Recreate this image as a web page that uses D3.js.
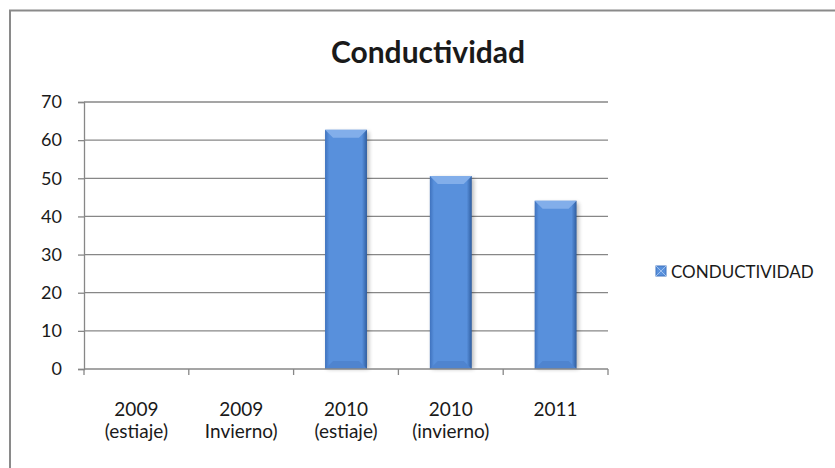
<!DOCTYPE html>
<html>
<head>
<meta charset="utf-8">
<script src="https://cdn.jsdelivr.net/npm/d3@7"></script>
<style>
  html, body { margin: 0; padding: 0; background: #fff; }
  svg { display: block; }
  text { font-family: Lato, "Open Sans", sans-serif; fill: #1a1a1a; }
</style>
</head>
<body>
<svg id="chart" width="835" height="468"></svg>
<script>
// Conductividad by sampling campaign
const categories = [["2009", "(estiaje)"], ["2009", "Invierno)"], ["2010", "(estiaje)"], ["2010", "(invierno)"], ["2011", ""]];
const conductividad = [null, null, 62.7, 50.6, 44.1];
const yTicks = [0, 10, 20, 30, 40, 50, 60, 70];
const seriesName = "CONDUCTIVIDAD";
const chartTitle = "Conductividad";

const svg = d3.select("#chart");
const W = 835, H = 468;
const plot = { left: 84, right: 608, top: 102, bottom: 369 };

// outer chart frame (continues beyond the right and bottom edges)
svg.append("rect")
  .attr("x", 10).attr("y", 10.5)
  .attr("width", W + 20).attr("height", H + 20)
  .attr("fill", "#fff").attr("stroke", "#8a8a8a").attr("stroke-width", 2);

const keys = categories.map((c, i) => i);
const x = d3.scaleBand().domain(keys).range([plot.left, plot.right])
  .paddingInner(0.6).paddingOuter(0.3);
const xTicks = d3.scaleBand().domain(keys).range([plot.left, plot.right]);
const y = d3.scaleLinear().domain([0, 70]).range([plot.bottom, plot.top]);

// horizontal gridlines + y axis
const yAxis = d3.axisLeft(y).tickValues(yTicks).tickSize(6).tickPadding(16);
const gy = svg.append("g").attr("transform", `translate(${plot.left},0)`).call(yAxis);
gy.select(".domain").attr("stroke", "#878787").attr("stroke-width", 1.3);
gy.selectAll(".tick line").attr("stroke", "#878787").attr("stroke-width", 1.3);
gy.selectAll(".tick text").style("font-size", "18px").attr("fill", "#1a1a1a");

svg.append("g").selectAll("line").data(yTicks.filter(t => t > 0)).join("line")
  .attr("x1", plot.left).attr("x2", plot.right)
  .attr("y1", d => y(d)).attr("y2", d => y(d))
  .attr("stroke", "#878787").attr("stroke-width", 1.3);

// bar styling: bevelled blue columns
const defs = svg.append("defs");
const side = defs.append("linearGradient").attr("id", "barSide").attr("x1", 0).attr("x2", 1);
side.append("stop").attr("offset", "0%").attr("stop-color", "#3f72bd");
side.append("stop").attr("offset", "10%").attr("stop-color", "#5890dc");
side.append("stop").attr("offset", "88%").attr("stop-color", "#5890dc");
side.append("stop").attr("offset", "100%").attr("stop-color", "#2f5d9f");
defs.append("filter").attr("id", "barShadow").attr("x", -0.3).attr("y", -0.1).attr("width", 1.6).attr("height", 1.2)
  .append("feGaussianBlur").attr("stdDeviation", 2);

const data = conductividad.map((v, i) => ({ i, v })).filter(d => d.v != null);
const bars = svg.append("g").selectAll("g").data(data).join("g");
const bev = 8;

bars.append("rect")
  .attr("x", d => x(d.i) + 2).attr("y", d => y(d.v) + 2)
  .attr("width", x.bandwidth()).attr("height", d => y(0) - y(d.v) - 2)
  .attr("fill", "#000").attr("opacity", 0.28).attr("filter", "url(#barShadow)");
bars.append("rect")
  .attr("x", d => x(d.i)).attr("y", d => y(d.v))
  .attr("width", x.bandwidth()).attr("height", d => y(0) - y(d.v))
  .attr("fill", "url(#barSide)");
// top bevel
bars.append("path")
  .attr("d", d => {
    const x0 = x(d.i), x1 = x0 + x.bandwidth(), t = y(d.v);
    return `M${x0},${t}L${x1},${t}L${x1 - bev},${t + bev}L${x0 + bev},${t + bev}Z`;
  })
  .attr("fill", "#82aeea");
// bottom bevel
bars.append("path")
  .attr("d", d => {
    const x0 = x(d.i), x1 = x0 + x.bandwidth(), b = y(0);
    return `M${x0},${b}L${x1},${b}L${x1 - bev},${b - bev}L${x0 + bev},${b - bev}Z`;
  })
  .attr("fill", "#4f84cf");

// x axis baseline and ticks
svg.append("line").attr("x1", plot.left).attr("x2", plot.right)
  .attr("y1", y(0)).attr("y2", y(0)).attr("stroke", "#878787").attr("stroke-width", 1.3);
const tickXs = keys.map(k => xTicks(k)).concat([plot.right]);
svg.append("g").selectAll("line").data(tickXs).join("line")
  .attr("x1", d => d).attr("x2", d => d)
  .attr("y1", y(0)).attr("y2", y(0) + 6)
  .attr("stroke", "#878787").attr("stroke-width", 1.3);

// category labels
const cl = svg.append("g").selectAll("text").data(categories).join("text")
  .attr("x", (d, i) => xTicks(i) + xTicks.bandwidth() / 2)
  .attr("y", 416)
  .attr("text-anchor", "middle")
  .style("font-size", "19px");
cl.append("tspan").attr("x", (d, i) => xTicks(i) + xTicks.bandwidth() / 2).text(d => d[0]);
cl.append("tspan").attr("x", (d, i) => xTicks(i) + xTicks.bandwidth() / 2).attr("dy", 22).text(d => d[1]);

// title
svg.append("text").attr("x", 428).attr("y", 63).attr("text-anchor", "middle")
  .style("font-size", "30px").style("font-weight", "bold").text(chartTitle);

// legend
const lg = svg.append("g").attr("transform", "translate(656,266)");
lg.append("rect").attr("width", 10).attr("height", 10).attr("fill", "#5890dc").attr("stroke", "#3f72bd");
lg.append("path").attr("d", "M0,0L10,10M10,0L0,10").attr("stroke", "#9fc1ee").attr("stroke-width", 1);
lg.append("text").attr("x", 15).attr("y", 11.5).style("font-size", "17px").text(seriesName);
</script>
</body>
</html>
